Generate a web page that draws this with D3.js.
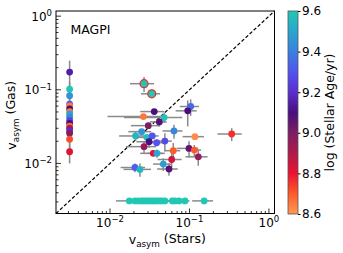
<!DOCTYPE html>
<html>
<head>
<meta charset="utf-8">
<script src="https://cdn.jsdelivr.net/npm/d3@7"></script>
<style>
  body { margin: 0; background: #fff; }
  svg { display: block; font-family: "DejaVu Sans", sans-serif; }
</style>
</head>
<body>
<div id="chart"></div>
<script>
// galaxies with a stellar upper limit (left column)
const stackStars = 0.0031;
const stackGas    = [0.174, 0.102, 0.083, 0.064, 0.0605, 0.055, 0.0506, 0.047, 0.0424, 0.0382, 0.035, 0.032, 0.030, 0.0276, 0.0257, 0.0213, 0.0144];
const stackGasErr = [0.075, 0.025, 0.02, 0.015, 0.012, 0.012, 0.01, 0.01, 0.01, 0.01, 0.008, 0.008, 0.007, 0.007, 0.006, 0.008, 0.0044];
const stackAge    = [9.15, 9.6, 9.45, 9.3, 8.65, 9.1, 8.65, 9.5, 9.42, 9.25, 9.1, 8.68, 8.95, 9.2, 8.98, 8.72, 8.82];

// galaxies with a gas upper limit (bottom row)
const rowGas = 0.0031;
const rowStars    = [0.0175, 0.0206, 0.0227, 0.0251, 0.0268, 0.029, 0.031, 0.0335, 0.0357, 0.0386, 0.0417, 0.0447, 0.049, 0.0608, 0.0657, 0.0738, 0.0877, 0.153];
const rowStarsErr = [0.0056, 0.004, 0.004, 0.004, 0.004, 0.005, 0.005, 0.005, 0.006, 0.006, 0.006, 0.007, 0.007, 0.009, 0.01, 0.01, 0.012, 0.045];
const rowAge      = [9.6, 9.6, 9.6, 9.6, 9.6, 9.6, 9.6, 9.6, 9.6, 9.6, 9.6, 9.6, 9.6, 9.6, 9.6, 9.6, 9.6, 9.6];

// galaxies measured in both
const vStars = [0.0268, 0.0335, 0.036, 0.0263, 0.048, 0.0303, 0.0417, 0.025, 0.021, 0.029, 0.034, 0.0638, 0.031, 0.0386, 0.049, 0.0268,
                0.035, 0.039, 0.0625, 0.0597, 0.0468, 0.0552, 0.0206, 0.0238, 0.1035, 0.095, 0.117, 0.0986, 0.115, 0.129, 0.34];
const eStars = [0.009, 0.009, 0.012, 0.017, 0.033, 0.012, 0.01, 0.008, 0.008, 0.006, 0.007, 0.018, 0.0095, 0.01, 0.011, 0.011,
                0.011, 0.01, 0.014, 0.02, 0.012, 0.016, 0.007, 0.009, 0.028, 0.028, 0.035, 0.03, 0.025, 0.04, 0.115];
const vGas   = [0.121, 0.0882, 0.0506, 0.0433, 0.042, 0.0326, 0.0366, 0.027, 0.0236, 0.0226, 0.0236, 0.0276, 0.0197, 0.0191, 0.0201, 0.0169,
                0.0137, 0.0137, 0.0149, 0.0113, 0.0098, 0.0084, 0.0088, 0.0083, 0.0593, 0.0518, 0.0231, 0.016, 0.0152, 0.0123, 0.0251];
const eGas   = [0.028, 0.008, 0.004, 0.003, 0.0066, 0.003, 0.005, 0.002, 0.0034, 0.002, 0.002, 0.006, 0.0034, 0.002, 0.0056, 0.003,
                0.001, 0.0018, 0.004, 0.0024, 0.0019, 0.0016, 0.0012, 0.0017, 0.015, 0.02, 0.002, 0.004, 0.0026, 0.003, 0.005];
const ages   = [9.6, 9.6, 9.1, 8.65, 9.58, 9.0, 9.08, 9.45, 9.55, 9.57, 9.3, 9.42, 9.1, 9.3, 9.28, 8.95,
                8.83, 9.5, 8.7, 8.85, 9.48, 9.08, 9.32, 9.55, 9.35, 9.1, 8.62, 9.05, 8.7, 8.95, 8.76];
const flagged = [true, true];

const xMajor = [0.01, 0.1, 1];
const yMajor = [0.01, 0.1, 1];
const ageTicks = [8.6, 8.8, 9.0, 9.2, 9.4, 9.6];

// colormap of the colour bar
const cmapAges   = [8.6, 8.7, 8.8, 8.9, 9.0, 9.1, 9.2, 9.3, 9.4, 9.5, 9.6];
const cmapColors = ["#ff9852", "#ff5a2a", "#ec1232", "#b0194c", "#7c1e62", "#4a0e80", "#5a2ed2", "#5254f0", "#3a80e0", "#2aa6cc", "#20c8b4"];

const width = 343, height = 253;
const plot = { left: 56, right: 274.5, top: 11, bottom: 213.5 };
const lo = Math.pow(10, -2.68), hi = Math.pow(10, 0.07);

const svg = d3.select("#chart").append("svg")
  .attr("width", width)
  .attr("height", height);

const x = d3.scaleLog().domain([lo, hi]).range([plot.left, plot.right]);
const y = d3.scaleLog().domain([lo, hi]).range([plot.bottom, plot.top]);
const color = d3.scaleLinear().domain(cmapAges).range(cmapColors).clamp(true);

function minors() {
  const out = [];
  [-3, -2, -1].forEach(e => {
    for (let m = 2; m <= 9; m++) {
      const v = m * Math.pow(10, e);
      if (v > lo && v < hi) out.push(v);
    }
  });
  return out;
}

// diagonal one-to-one line
svg.append("line")
  .attr("x1", x(lo)).attr("y1", y(lo))
  .attr("x2", x(hi)).attr("y2", y(hi))
  .attr("stroke", "#000")
  .attr("stroke-width", 1.2)
  .attr("stroke-dasharray", "3.5,2");

// error bars
const bars = svg.append("g")
  .attr("stroke", "#8a8a8a")
  .attr("stroke-width", 1.5);

function errBar(px, py, ex, ey) {
  if (ex > 0) {
    bars.append("line")
      .attr("x1", x(Math.max(px - ex, lo))).attr("x2", x(px + ex))
      .attr("y1", y(py)).attr("y2", y(py));
  }
  if (ey > 0) {
    bars.append("line")
      .attr("x1", x(px)).attr("x2", x(px))
      .attr("y1", y(Math.max(py - ey, lo))).attr("y2", y(py + ey));
  }
}

stackGas.forEach((g, i) => errBar(stackStars, g, 0, stackGasErr[i]));
rowStars.forEach((s, i) => errBar(s, rowGas, rowStarsErr[i], 0));
vStars.forEach((s, i) => errBar(s, vGas[i], eStars[i], eGas[i]));

// points
const dots = svg.append("g");

stackGas.forEach((g, i) => {
  dots.append("circle")
    .attr("cx", x(stackStars)).attr("cy", y(g))
    .attr("r", 3.4)
    .attr("fill", color(stackAge[i]));
});

rowStars.forEach((s, i) => {
  dots.append("circle")
    .attr("cx", x(s)).attr("cy", y(rowGas))
    .attr("r", 3.4)
    .attr("fill", color(rowAge[i]));
});

vStars.forEach((s, i) => {
  dots.append("circle")
    .attr("cx", x(s)).attr("cy", y(vGas[i]))
    .attr("r", flagged[i] ? 4 : 3.4)
    .attr("fill", color(ages[i]))
    .attr("stroke", flagged[i] ? "#f0282a" : "none")
    .attr("stroke-width", 1.2);
});

// frame
svg.append("rect")
  .attr("x", plot.left).attr("y", plot.top)
  .attr("width", plot.right - plot.left)
  .attr("height", plot.bottom - plot.top)
  .attr("fill", "none")
  .attr("stroke", "#000")
  .attr("stroke-width", 1);

// ticks pointing in
const tickG = svg.append("g").attr("stroke", "#000").attr("stroke-width", 0.8);
xMajor.concat(minors()).forEach(v => {
  const len = xMajor.includes(v) ? 5 : 2.5;
  tickG.append("line").attr("x1", x(v)).attr("x2", x(v))
    .attr("y1", plot.bottom).attr("y2", plot.bottom - len);
});
yMajor.concat(minors()).forEach(v => {
  const len = yMajor.includes(v) ? 5 : 2.5;
  tickG.append("line").attr("x1", plot.left).attr("x2", plot.left + len)
    .attr("y1", y(v)).attr("y2", y(v));
});

function powLabel(sel, v) {
  const e = Math.round(Math.log10(v));
  sel.append("tspan").text("10");
  sel.append("tspan")
    .attr("dy", "-0.55em")
    .style("font-size", "8.5px")
    .text(e < 0 ? "\u2212" + (-e) : String(e));
}

xMajor.forEach(v => {
  const t = svg.append("text")
    .attr("x", x(v)).attr("y", 227)
    .attr("text-anchor", "middle")
    .style("font-size", "12px");
  powLabel(t, v);
});

yMajor.forEach(v => {
  const t = svg.append("text")
    .attr("x", plot.left - 4).attr("y", y(v) + 4.5)
    .attr("text-anchor", "end")
    .style("font-size", "12px");
  powLabel(t, v);
});

// axis titles
const xt = svg.append("text")
  .attr("x", (plot.left + plot.right) / 2 + 2).attr("y", 244)
  .attr("text-anchor", "middle")
  .style("font-size", "12.5px");
xt.append("tspan").text("v");
xt.append("tspan").attr("dy", "0.3em").style("font-size", "8.8px").text("asym");
xt.append("tspan").attr("dy", "-0.3em").text(" (Stars)");

const yt = svg.append("text")
  .attr("transform", `translate(16, ${(plot.top + plot.bottom) / 2 + 3}) rotate(-90)`)
  .attr("text-anchor", "middle")
  .style("font-size", "12.5px");
yt.append("tspan").text("v");
yt.append("tspan").attr("dy", "0.3em").style("font-size", "8.8px").text("asym");
yt.append("tspan").attr("dy", "-0.3em").text(" (Gas)");

svg.append("text")
  .attr("x", 70.5).attr("y", 33.5)
  .style("font-size", "12.5px")
  .text("MAGPI");

// colour bar
const cb = { x: 288, y: 11, w: 10, h: 203 };
const grad = svg.append("defs").append("linearGradient")
  .attr("id", "agegrad")
  .attr("x1", 0).attr("y1", 1).attr("x2", 0).attr("y2", 0);
cmapAges.forEach((a, i) => {
  grad.append("stop")
    .attr("offset", (a - 8.6) / 1.0)
    .attr("stop-color", cmapColors[i]);
});
svg.append("rect")
  .attr("x", cb.x).attr("y", cb.y)
  .attr("width", cb.w).attr("height", cb.h)
  .attr("fill", "url(#agegrad)")
  .attr("stroke", "#555")
  .attr("stroke-width", 0.8);

const cbScale = d3.scaleLinear().domain([8.6, 9.6]).range([cb.y + cb.h, cb.y]);
const cbAxis = svg.append("g")
  .attr("transform", `translate(${cb.x + cb.w}, 0)`)
  .call(d3.axisRight(cbScale).tickValues(ageTicks).tickSize(2.5).tickPadding(1.5).tickFormat(d3.format(".1f")));
cbAxis.select(".domain").remove();
cbAxis.selectAll("text")
  .style("font-family", "DejaVu Sans, sans-serif")
  .style("font-size", "12px")
  .attr("fill", "#000");

svg.append("text")
  .attr("transform", `translate(334, ${cb.y + cb.h / 2}) rotate(-90)`)
  .attr("text-anchor", "middle")
  .style("font-size", "12.5px")
  .text("log (Stellar Age/yr)");
</script>
</body>
</html>
